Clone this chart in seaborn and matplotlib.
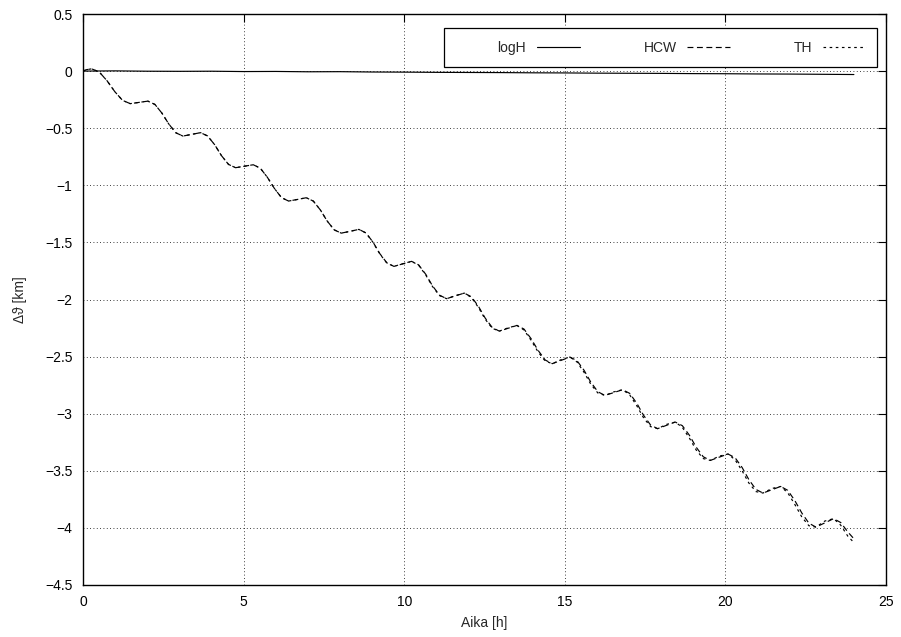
import matplotlib
matplotlib.use("Agg")
import matplotlib.pyplot as plt
from matplotlib.patches import Rectangle
import seaborn as sns

# values
loh_t = [0, 1, 2, 3, 4, 5, 6, 7, 8, 9, 10, 11, 12, 13, 14, 15, 16, 17, 18, 19, 20, 21, 22, 23, 24]
loh_y = [0.000, 0.002, -0.001, -0.002, -0.001, -0.004, -0.003, -0.006, -0.005, -0.008, -0.009, -0.011,
         -0.012, -0.013, -0.015, -0.016, -0.018, -0.019, -0.020, -0.022, -0.023, -0.025, -0.026, -0.028, -0.030]

orb_t = [0.00, 0.10, 0.27, 0.51, 0.75, 0.99, 1.23, 1.47, 1.745, 2.02, 2.24, 2.46, 2.67, 2.89,
         3.11, 3.385, 3.66, 3.88, 4.10, 4.31, 4.53, 4.75, 5.025, 5.30, 5.52, 5.74, 5.96, 6.18,
         6.40, 6.675, 6.95, 7.17, 7.39, 7.60, 7.82, 8.04, 8.315, 8.59, 8.81, 9.03, 9.24, 9.46,
         9.68, 9.955, 10.23, 10.45, 10.67, 10.88, 11.10, 11.32, 11.595, 11.87, 12.09, 12.31, 12.52, 12.74,
         12.96, 13.235, 13.51, 13.73, 13.95, 14.17, 14.39, 14.61, 14.885, 15.16, 15.38, 15.60, 15.81, 16.03,
         16.25, 16.525, 16.80, 17.02, 17.24, 17.45, 17.67, 17.89, 18.165, 18.44, 18.66, 18.88, 19.09, 19.31,
         19.53, 19.805, 20.08, 20.30, 20.52, 20.73, 20.95, 21.17, 21.445, 21.72, 21.94, 22.16, 22.38, 22.60,
         22.82, 23.095, 23.37, 23.59, 23.81, 24.00]

hcw_y = [0.000, 0.012, 0.020, -0.009, -0.085, -0.180, -0.256, -0.285, -0.274, -0.263, -0.292, -0.369, -0.463, -0.540,
         -0.569, -0.554, -0.539, -0.568, -0.645, -0.740, -0.817, -0.846, -0.833, -0.820, -0.850, -0.930, -1.028, -1.108,
         -1.138, -1.124, -1.109, -1.138, -1.216, -1.312, -1.390, -1.419, -1.403, -1.386, -1.417, -1.498, -1.598, -1.679,
         -1.710, -1.688, -1.666, -1.697, -1.779, -1.880, -1.962, -1.993, -1.968, -1.944, -1.976, -2.059, -2.162, -2.245,
         -2.277, -2.252, -2.227, -2.259, -2.343, -2.446, -2.530, -2.562, -2.533, -2.504, -2.536, -2.620, -2.724, -2.808,
         -2.840, -2.815, -2.790, -2.822, -2.908, -3.013, -3.099, -3.131, -3.102, -3.073, -3.105, -3.189, -3.293, -3.377,
         -3.409, -3.381, -3.353, -3.385, -3.471, -3.577, -3.663, -3.695, -3.666, -3.637, -3.671, -3.760, -3.870, -3.959,
         -3.993, -3.956, -3.919, -3.953, -4.035, -4.095]

th_y = [0.000, 0.012, 0.020, -0.009, -0.085, -0.180, -0.256, -0.285, -0.274, -0.263, -0.292, -0.369, -0.463, -0.540,
        -0.569, -0.554, -0.539, -0.568, -0.645, -0.740, -0.817, -0.846, -0.833, -0.820, -0.850, -0.930, -1.028, -1.108,
        -1.138, -1.124, -1.109, -1.138, -1.216, -1.312, -1.390, -1.419, -1.403, -1.386, -1.418, -1.500, -1.601, -1.681,
        -1.710, -1.687, -1.666, -1.700, -1.785, -1.886, -1.966, -1.993, -1.966, -1.944, -1.982, -2.069, -2.172, -2.252,
        -2.277, -2.248, -2.227, -2.267, -2.357, -2.460, -2.539, -2.562, -2.527, -2.504, -2.547, -2.638, -2.742, -2.819,
        -2.840, -2.809, -2.790, -2.835, -2.930, -3.035, -3.113, -3.131, -3.094, -3.073, -3.120, -3.214, -3.318, -3.393,
        -3.409, -3.372, -3.353, -3.403, -3.500, -3.607, -3.682, -3.695, -3.655, -3.637, -3.692, -3.794, -3.905, -3.981,
        -3.993, -3.940, -3.919, -3.976, -4.072, -4.128]

xticks = [0, 5, 10, 15, 20, 25]
yticks = [0.5, 0, -0.5, -1, -1.5, -2, -2.5, -3, -3.5, -4, -4.5]
ytick_labels = ['0.5', '0', '\u22120.5', '\u22121', '\u22121.5', '\u22122', '\u22122.5', '\u22123', '\u22123.5', '\u22124', '\u22124.5']

sns.set_theme(style='white')
plt.rcParams['font.family'] = ['Liberation Sans', 'DejaVu Sans']
plt.rcParams['axes.unicode_minus'] = True

fig = plt.figure(figsize=(9.01, 6.37), dpi=100)
ax = fig.add_axes([83/901, 1-585/637, 803/901, 571/637])

sns.lineplot(x=loh_t, y=loh_y, ax=ax, color='black', lw=0.85, label='logH', estimator=None)
sns.lineplot(x=orb_t, y=hcw_y, ax=ax, color='black', lw=0.85, linestyle=(0, (5, 3)), label='HCW', estimator=None)
sns.lineplot(x=orb_t, y=th_y, ax=ax, color='black', lw=0.85, linestyle=(0, (2.2, 3)), label='TH', estimator=None)

ax.set_xlim(0, 25)
ax.set_ylim(-4.5, 0.5)
ax.set_xticks(xticks)
ax.set_yticks(yticks)
ax.set_yticklabels(ytick_labels)
ax.grid(True, color='black', linestyle=(0, (1, 3)), lw=0.6)
ax.tick_params(direction='in', length=5.5, width=0.8, top=True, right=True, labelsize=10, pad=7.5, colors='black')
for s in ax.spines.values():
    s.set_color('black')
    s.set_linewidth(1.0)

ax.set_xlabel('Aika [h]', fontsize=10)
ax.set_ylabel('\u0394\u03d1 [km]', fontsize=10)
ax.xaxis.set_label_coords(0.5, -0.054)
ax.yaxis.set_label_coords(-0.07, 0.5)

# key box, gnuplot style
ax.add_patch(Rectangle((0.4496, 0.907), 0.539, 0.068, transform=ax.transAxes,
                       facecolor='white', edgecolor='black', lw=0.9, zorder=4))
leg = ax.legend(ncol=3, markerfirst=False, loc='center right', frameon=False,
                bbox_to_anchor=(0.9751, 0.9413), borderaxespad=0, borderpad=0, fontsize=10,
                handlelength=3.1, handletextpad=0.75, columnspacing=4.6)
leg.set_zorder(5)

fig.savefig('out.png', dpi=100)
